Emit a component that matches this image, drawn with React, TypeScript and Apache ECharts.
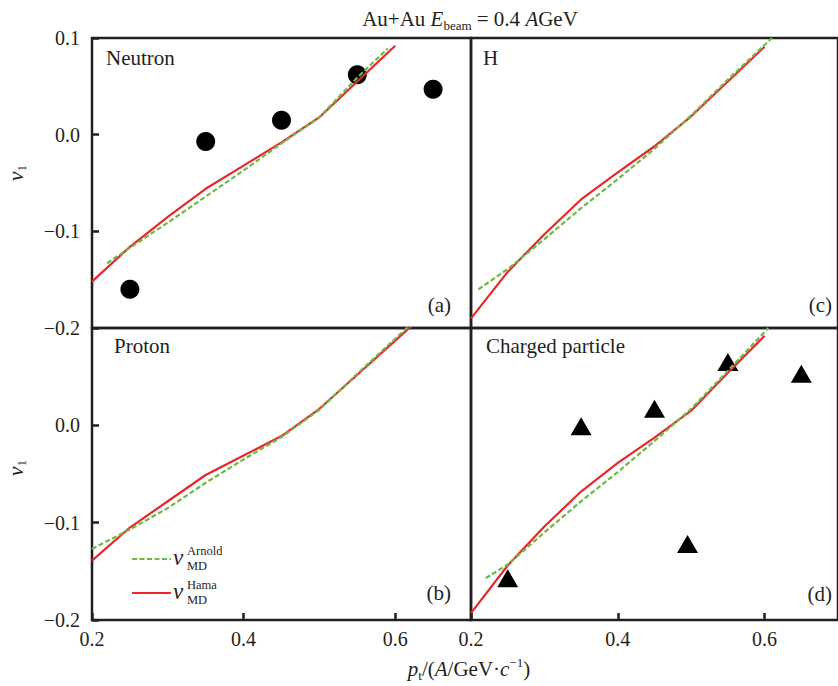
import React, { useEffect, useRef } from 'react';
import * as echarts from 'echarts';

const FONT = 'Liberation Serif';
const INK = '#231f20';
const RED = '#e8262b';
const GREEN = '#6cb944';

// common transverse-momentum grid of the model curves
const lineX = [0.2, 0.25, 0.3, 0.35, 0.4, 0.45, 0.5, 0.55, 0.6];

// (a) Neutron
const neutronPt = [0.25, 0.35, 0.45, 0.55, 0.65];
const neutronV1 = [-0.16, -0.007, 0.015, 0.062, 0.047];
const neutronHama = [-0.152, -0.116, -0.085, -0.056, -0.032, -0.008, 0.018, 0.055, 0.092];
const neutronArnoldX = [0.22, 0.25, 0.3, 0.35, 0.4, 0.45, 0.5, 0.55, 0.59];
const neutronArnold = [-0.133, -0.117, -0.091, -0.064, -0.037, -0.009, 0.018, 0.059, 0.089];

// (b) Proton
const protonX = [0.2, 0.25, 0.3, 0.35, 0.4, 0.45, 0.5, 0.55, 0.6, 0.65];
const protonHama = [-0.139, -0.105, -0.078, -0.051, -0.031, -0.011, 0.017, 0.052, 0.087, 0.122];
const protonArnold = [-0.127, -0.107, -0.085, -0.059, -0.035, -0.012, 0.016, 0.053, 0.089, 0.125];

// (c) H
const hHama = [-0.19, -0.142, -0.103, -0.067, -0.039, -0.012, 0.019, 0.055, 0.091];
const hArnoldX = [0.21, 0.25, 0.3, 0.35, 0.4, 0.45, 0.5, 0.55, 0.61];
const hArnold = [-0.16, -0.139, -0.108, -0.076, -0.046, -0.0145, 0.02, 0.057, 0.1];

// (d) Charged particle
const chargedPt = [0.25, 0.35, 0.45, 0.495, 0.55, 0.65];
const chargedV1 = [-0.157, -0.001, 0.017, -0.122, 0.065, 0.053];
const chargedHama = [-0.193, -0.144, -0.104, -0.068, -0.0385, -0.0127, 0.015, 0.054, 0.092];
const chargedArnoldX = [0.22, 0.25, 0.3, 0.35, 0.4, 0.45, 0.5, 0.55, 0.605];
const chargedArnold = [-0.157, -0.143, -0.11, -0.078, -0.048, -0.016, 0.017, 0.056, 0.1];

const xTicks = { min: 0.2, max: 0.7, interval: 0.2 };
const yTicks = { min: -0.2, max: 0.1, interval: 0.1 };

const fmt = (v: number) => {
  const s = Math.abs(v).toFixed(1);
  return v < -1e-9 ? '\u2212' + s : s;
};

const pairs = (xs: number[], ys: number[]) => xs.map((x, i) => [x, ys[i]]);

function makeX(gridIndex: number, labels: boolean, ticks: boolean) {
  return {
    type: 'value',
    gridIndex,
    ...xTicks,
    axisLine: { show: false, onZero: false },
    splitLine: { show: false },
    axisTick: { show: ticks, inside: true, length: 7, lineStyle: { color: INK, width: 2.5 } },
    axisLabel: {
      show: labels,
      showMaxLabel: false,
      margin: 9,
      fontFamily: FONT,
      fontSize: 20,
      color: INK,
      formatter: fmt,
    },
  };
}

function makeY(gridIndex: number, labels: boolean, showMax: boolean) {
  return {
    type: 'value',
    gridIndex,
    ...yTicks,
    axisLine: { show: false, onZero: false },
    splitLine: { show: false },
    axisTick: { show: labels, inside: true, length: 7, lineStyle: { color: INK, width: 2.5 } },
    axisLabel: {
      show: labels,
      showMaxLabel: showMax,
      margin: 12,
      fontFamily: FONT,
      fontSize: 20,
      color: INK,
      formatter: fmt,
    },
  };
}

function panelSeries(idx: number, hamaX: number[], hama: number[], arnX: number[], arn: number[]) {
  return [
    {
      type: 'line',
      xAxisIndex: idx,
      yAxisIndex: idx,
      data: pairs(hamaX, hama),
      showSymbol: false,
      symbol: 'none',
      lineStyle: { color: RED, width: 2.2 },
      z: 3,
    },
    {
      type: 'line',
      xAxisIndex: idx,
      yAxisIndex: idx,
      data: pairs(arnX, arn),
      showSymbol: false,
      symbol: 'none',
      lineStyle: { color: GREEN, width: 2.2, type: [5, 2.5] },
      z: 4,
    },
  ];
}

const txt = (x: number, y: number, text: string, align = 'left', size = 21) => ({
  type: 'text',
  x,
  y,
  z: 10,
  style: { text, fill: INK, fontFamily: FONT, fontSize: size, align, verticalAlign: 'middle' },
});

const richBase = {
  n: { fontFamily: FONT, fontSize: 21, lineHeight: 26, fill: INK },
  i: { fontFamily: FONT, fontSize: 21, lineHeight: 26, fill: INK, fontStyle: 'italic' },
  v: { fontFamily: FONT, fontSize: 22, lineHeight: 26, fill: INK, fontStyle: 'italic' },
  s: { fontFamily: FONT, fontSize: 13, lineHeight: 16, fill: INK, verticalAlign: 'bottom' },
  p: { fontFamily: FONT, fontSize: 13, lineHeight: 14, fill: INK, verticalAlign: 'top' },
};

const richText = (x: number, y: number, text: string, rotation = 0) => ({
  type: 'text',
  x,
  y,
  rotation,
  z: 10,
  style: { text, rich: richBase, align: 'center', verticalAlign: 'middle', fill: INK },
});

function legendEntry(y: number, sup: string, dashed: boolean) {
  return [
    {
      type: 'line',
      z: 10,
      shape: { x1: 132, y1: y, x2: 171, y2: y },
      style: { stroke: dashed ? GREEN : RED, lineWidth: 2.2, lineDash: dashed ? [5, 2.5] : null },
    },
    {
      type: 'text',
      x: 173,
      y: y - 2,
      z: 10,
      style: { text: 'v', fill: INK, fontFamily: FONT, fontSize: 23, fontStyle: 'italic', verticalAlign: 'middle' },
    },
    {
      type: 'text',
      x: 187,
      y: y - 8,
      z: 10,
      style: { text: sup, fill: INK, fontFamily: FONT, fontSize: 12.5, verticalAlign: 'middle' },
    },
    {
      type: 'text',
      x: 187,
      y: y + 6.5,
      z: 10,
      style: { text: 'MD', fill: INK, fontFamily: FONT, fontSize: 12.5, verticalAlign: 'middle' },
    },
  ];
}

export default function App() {
  const ref = useRef<HTMLDivElement>(null);

  useEffect(() => {
    if (!ref.current) return;
    const chart = echarts.init(ref.current, undefined, { renderer: 'svg' });
    const gridStyle = { show: true, borderColor: INK, borderWidth: 2.5 };
    chart.setOption({
      animation: false,
      backgroundColor: '#ffffff',
      grid: [
        { left: 92, top: 38, width: 379, height: 290, ...gridStyle },
        { left: 92, top: 328, width: 379, height: 292, ...gridStyle },
        { left: 471, top: 38, width: 375, height: 290, ...gridStyle },
        { left: 471, top: 328, width: 375, height: 292, ...gridStyle },
      ],
      xAxis: [makeX(0, false, false), makeX(1, true, true), makeX(2, false, false), makeX(3, true, true)],
      yAxis: [makeY(0, true, true), makeY(1, true, false), makeY(2, false, false), makeY(3, false, false)],
      series: [
        ...panelSeries(0, lineX, neutronHama, neutronArnoldX, neutronArnold),
        {
          type: 'scatter',
          xAxisIndex: 0,
          yAxisIndex: 0,
          data: pairs(neutronPt, neutronV1),
          symbol: 'circle',
          symbolSize: 19,
          itemStyle: { color: '#000000', opacity: 1 },
          z: 2,
        },
        ...panelSeries(1, protonX, protonHama, protonX, protonArnold),
        ...panelSeries(2, lineX, hHama, hArnoldX, hArnold),
        ...panelSeries(3, lineX, chargedHama, chargedArnoldX, chargedArnold),
        {
          type: 'scatter',
          xAxisIndex: 3,
          yAxisIndex: 3,
          data: pairs(chargedPt, chargedV1),
          symbol: 'triangle',
          symbolSize: [21, 18],
          itemStyle: { color: '#000000', opacity: 1 },
          z: 2,
        },
      ],
      graphic: [
        richText(470, 19, '{n|Au+Au }{i|E}{s|beam}{n| = 0.4 }{i|A}{n|GeV}'),
        richText(15, 173, '{v|v}{s|1}', Math.PI / 2),
        richText(15, 468, '{v|v}{s|1}', Math.PI / 2),
        richText(469, 669, '{i|p}{s|t}{n|/(}{i|A}{n|/GeV\u00b7}{i|c}{p|\u22121}{n|)}'),
        txt(106, 58, 'Neutron'),
        txt(483, 58, 'H'),
        txt(114, 346, 'Proton'),
        txt(486, 346, 'Charged particle'),
        txt(451, 305, '(a)', 'right'),
        txt(832, 305, '(c)', 'right'),
        txt(451, 593, '(b)', 'right'),
        txt(832, 594, '(d)', 'right'),
        ...legendEntry(559, 'Arnold', true),
        ...legendEntry(593, 'Hama', false),
      ],
    });
    return () => chart.dispose();
  }, []);

  return (
    <div
      ref={ref}
      style={{ position: 'absolute', left: 0, top: 0, width: 838, height: 686 }}
    />
  );
}
